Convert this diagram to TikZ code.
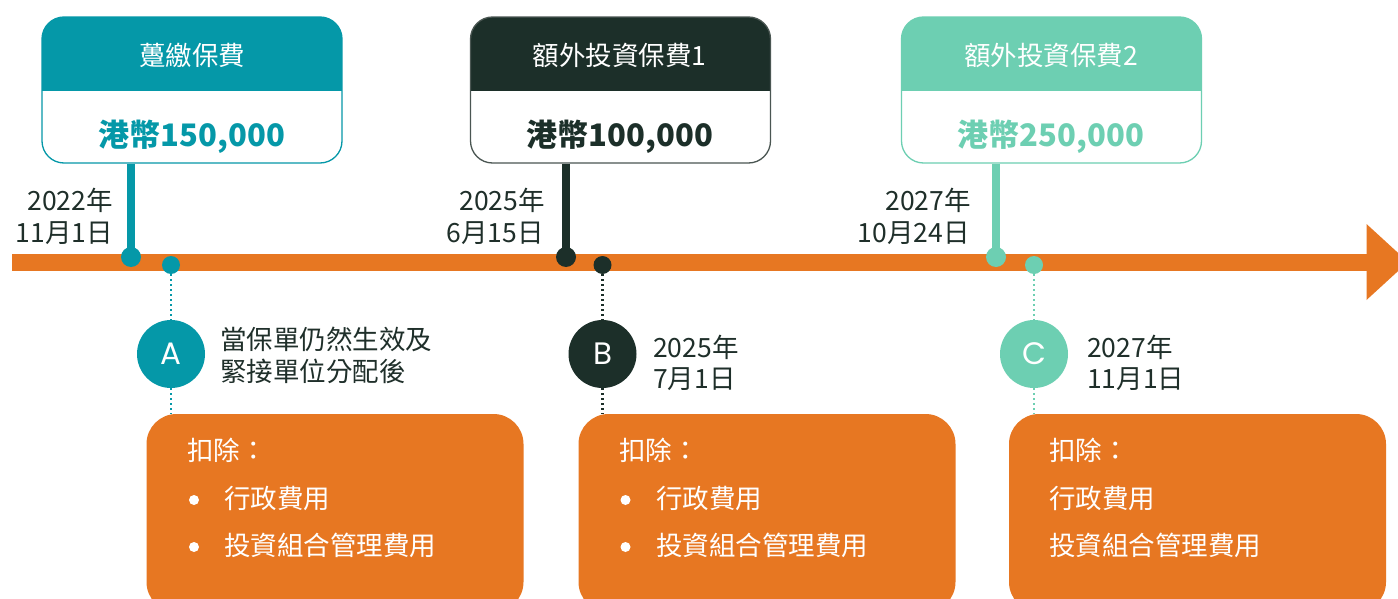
\documentclass[tikz,border=0pt]{standalone}
\usepackage{fontspec}
\setmainfont{Noto Sans CJK TC}
\newfontfamily\letterfont{Poppins}
\usetikzlibrary{arrows.meta}
\definecolor{cteal}{HTML}{0598A8}
\definecolor{cdark}{HTML}{1C2F29}
\definecolor{cmint}{HTML}{6DCFB2}
\definecolor{corange}{HTML}{E77722}
\definecolor{ctext}{HTML}{1F2F2A}
\definecolor{cdarkborder}{HTML}{4A5652}
\tikzset{
  premium/.style 2 args={draw=#2, line width=1.3pt, fill=white, rounded corners=22pt,
    minimum width=300pt, minimum height=146pt, inner sep=0pt,
    path picture={\fill[#1, sharp corners] (path picture bounding box.north west) rectangle ([yshift=-74pt]path picture bounding box.north east);}},
  headtext/.style={font=\fontsize{26.5}{30}\selectfont, text=white, anchor=base, inner sep=0pt},
  amount/.style={font=\fontsize{31}{36}\selectfont\bfseries, text=#1, anchor=base, inner sep=0pt},
  stem/.style={draw=#1, line width=8.6pt},
  bigdot/.style={circle, fill=#1, minimum size=20pt, inner sep=0pt},
  smalldot/.style={circle, fill=#1, minimum size=18pt, inner sep=0pt},
  dotline/.style={draw=#1, line width=2.2pt, dash pattern=on 2pt off 3pt},
  letter/.style={circle, fill=#1, minimum size=68pt, inner sep=0pt, text=white, font=\letterfont\fontsize{31}{36}\selectfont},
  feebox/.style={fill=corange, rounded corners=30pt, minimum width=377pt, minimum height=198pt, inner sep=0pt},
  feetext/.style={font=\fontsize{26.5}{30}\selectfont, text=white, anchor=base west, inner sep=0pt},
  bullet/.style={circle, fill=white, minimum size=10pt, inner sep=0pt},
  datel/.style={font=\fontsize{26.5}{30}\selectfont, text=ctext, anchor=base east, inner sep=0pt},
  dater/.style={font=\fontsize{26.5}{30}\selectfont, text=ctext, anchor=base west, inner sep=0pt},
}
\begin{document}
\begin{tikzpicture}[x=1pt, y=-1pt]
\clip (0,0) rectangle (1398,599);
\fill[white] (0,0) rectangle (1398,599);

% timeline
\coordinate (tl0) at (12,262);
\coordinate (tl1) at (1367,262);
\fill[corange] (12,253.8) rectangle (1368,270.6);
\fill[corange] (1366.5,224) -- (1408,262) -- (1366.5,300) -- cycle;

% premium boxes
\node[premium={cteal}{cteal}] (p1) at (192,90) {};
\node[premium={cdark}{cdarkborder}] (p2) at (620.5,90) {};
\node[premium={cmint}{cmint}] (p3) at (1051.5,90) {};

\node[headtext] (h1) at (192,66) {躉繳保費};
\node[headtext] (h2) at (619.5,66) {額外投資保費1};
\node[headtext] (h3) at (1051,66) {額外投資保費2};

\node[amount=cteal] (a1) at (192,147) {港幣150,000};
\node[amount=cdark] (a2) at (620,147) {港幣100,000};
\node[amount=cmint] (a3) at (1051,147) {港幣250,000};

% dots on timeline
\node[bigdot=cteal] (d1) at (131,257) {};
\node[bigdot=cdark] (d2) at (566,257) {};
\node[bigdot=cmint] (d3) at (996,257) {};

% stems
\draw[stem=cteal] (p1.south -| d1) -- (d1.center);
\draw[stem=cdark] (p2.south -| d2) -- (d2.center);
\draw[stem=cmint] (p3.south -| d3) -- (d3.center);

% fee boxes
\node[feebox] (bA) at (335,513) {};
\node[feebox] (bB) at (767,513) {};
\node[feebox] (bC) at (1197.5,513) {};

% letter circles
\node[letter=cteal] (cA) at (171,354) {A};
\node[letter=cdark] (cB) at (602.5,354) {B};
\node[letter=cmint] (cC) at (1034,354) {C};

% second dots
\node[smalldot=cteal] (e1) at (171,265) {};
\node[smalldot=cdark] (e2) at (602.5,265) {};
\node[smalldot=cmint] (e3) at (1034,265) {};

% dotted connectors
\draw[dotline=cteal] (e1.south) -- (cA.north);
\draw[dotline=cteal] (cA.south) -- (bA.north -| cA);
\draw[dotline=cdark] (e2.south) -- (cB.north);
\draw[dotline=cdark] (cB.south) -- (bB.north -| cB);
\draw[dotline=cmint] (e3.south) -- (cC.north);
\draw[dotline=cmint] (cC.south) -- (bC.north -| cC);

% dates above the line
\node[datel] (t1a) at (113,211) {2022年};
\node[datel] (t1b) at (113,242) {11月1日};
\node[datel] (t2a) at (545,211) {2025年};
\node[datel] (t2b) at (544,242) {6月15日};
\node[datel] (t3a) at (971,211) {2027年};
\node[datel] (t3b) at (970,242) {10月24日};

% texts beside letters
\node[dater] (sA1) at (220,349) {當保單仍然生效及};
\node[dater] (sA2) at (220,381) {緊接單位分配後};
\node[dater] (sB1) at (653,357) {2025年};
\node[dater] (sB2) at (653,388) {7月1日};
\node[dater] (sC1) at (1087,357) {2027年};
\node[dater] (sC2) at (1087,388) {11月1日};

% fee box A
\node[feetext] (fA0) at (187,460) {扣除：};
\node[bullet] (uA1) at (194,500) {};
\node[feetext] (fA1) at (224,508) {行政費用};
\node[bullet] (uA2) at (194,547) {};
\node[feetext] (fA2) at (224,555) {投資組合管理費用};

% fee box B
\node[feetext] (fB0) at (619,460) {扣除：};
\node[bullet] (uB1) at (625.5,500) {};
\node[feetext] (fB1) at (656,508) {行政費用};
\node[bullet] (uB2) at (625.5,547) {};
\node[feetext] (fB2) at (656,555) {投資組合管理費用};

% fee box C
\node[feetext] (fC0) at (1049,460) {扣除：};
\node[feetext] (fC1) at (1049,508) {行政費用};
\node[feetext] (fC2) at (1049,555) {投資組合管理費用};
\end{tikzpicture}
\end{document}
